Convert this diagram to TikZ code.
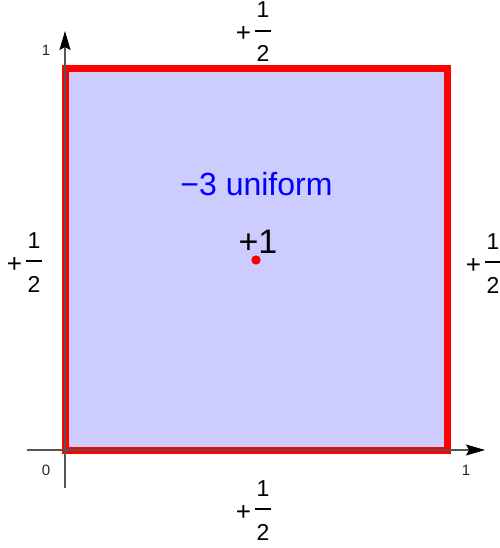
\documentclass[tikz,border=0pt]{standalone}
\usepackage{fontspec}
\setmainfont{Liberation Sans}
\usetikzlibrary{arrows.meta}
\definecolor{fillc}{RGB}{204,204,255}
\definecolor{axisc}{RGB}{85,85,85}
\tikzset{
  axisline/.style={draw=axisc, line width=1.1pt, -{Stealth[length=19pt,width=11pt,inset=3pt,black]}},
  ticklab/.style={font=\fontsize{15}{15}\selectfont, text=black!85, inner sep=0pt},
  fraclab/.style={font=\fontsize{23}{23}\selectfont, inner sep=0pt, anchor=base},
  pluslab/.style={font=\fontsize{26}{26}\selectfont, inner sep=0pt, anchor=base},
  fracbar/.style={line width=2pt},
  sqedge/.style={draw=red, line width=7pt, fill=fillc, miter limit=10},
}
\newcommand\halflabel[3]{%
  \node[pluslab] (#1p) at (#2-11.5,#3+11) {+};
  \node[fraclab] (#1n) at (#2+8,#3-13) {1};
  \node[fraclab] (#1d) at (#2+8,#3+31) {2};
  \draw[fracbar] (#2,#3) -- (#2+16,#3);
}
\begin{document}
\begin{tikzpicture}[x=1pt,y=-1pt]
  \useasboundingbox (0,0) rectangle (499,548);
  % square
  \draw[sqedge] (65,69) rectangle (447,450);
  % axes
  \coordinate (o) at (65,450);
  \coordinate (ybot) at (65,488);
  \coordinate (ytop) at (65,31);
  \coordinate (xleft) at (27,450);
  \coordinate (xright) at (485,450);
  \draw[axisline] (ybot) -- (ytop);
  \draw[axisline] (xleft) -- (xright);
  % tick labels
  \node[ticklab] (y1) at (46,50) {1};
  \node[ticklab] (x0) at (46,470) {0};
  \node[ticklab] (x1) at (466,470) {1};
  % interior
  \node[font=\fontsize{32}{32}\selectfont, text=blue, inner sep=0pt, anchor=base] (unif) at (256.5,195) {−3 uniform};
  \node[font=\fontsize{34}{34}\selectfont, inner sep=0pt, anchor=base] (charge) at (258,253) {+1};
  \fill[red] (256,260) circle (4.7);
  % edge labels
  \halflabel{top}{255}{31}
  \halflabel{left}{26}{261}
  \halflabel{right}{485}{262}
  \halflabel{bot}{255}{509}
\end{tikzpicture}
\end{document}
